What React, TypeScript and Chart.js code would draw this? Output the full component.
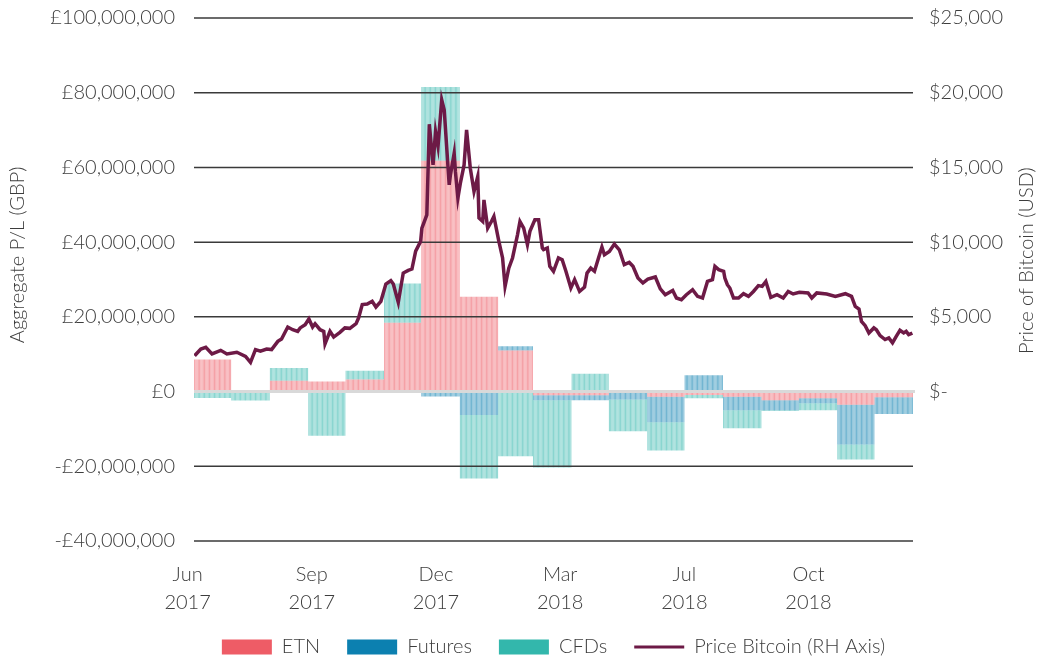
import React, { useEffect, useRef } from 'react';
import { Chart, registerables } from 'chart.js';

Chart.register(...registerables);

// Daily axis: day 0 = 1 Jun 2017, last day = 31 Dec 2018
const START_UTC = Date.UTC(2017, 5, 1);
const DAY_COUNT = 579;
const MONTH_NAMES = ['Jan', 'Feb', 'Mar', 'Apr', 'May', 'Jun', 'Jul', 'Aug', 'Sep', 'Oct', 'Nov', 'Dec'];

// Monthly categories (Jun 2017 .. Dec 2018)
const months = [
  'Jun 2017', 'Jul 2017', 'Aug 2017', 'Sep 2017', 'Oct 2017', 'Nov 2017', 'Dec 2017',
  'Jan 2018', 'Feb 2018', 'Mar 2018', 'Apr 2018', 'May 2018', 'Jun 2018', 'Jul 2018',
  'Aug 2018', 'Sep 2018', 'Oct 2018', 'Nov 2018', 'Dec 2018',
];

// Aggregate P/L per month, GBP millions
const etnMillions = [8.6, 0, 2.9, 2.7, 3.2, 18.4, 61.8, 25.4, 11.0, -1.0, -1.0, 0, -1.4, -0.9, -1.4, -2.3, -1.8, -3.5, -1.5];
const futuresMillions = [0, 0, 0, 0, 0, 0, -1.3, -6.3, 1.1, -1.3, -1.3, -2.1, -6.8, 4.4, -3.6, -2.7, -1.3, -10.7, -4.5];
const cfdsMillions = [-1.7, -2.4, 3.4, -11.8, 2.4, 10.5, 19.7, -17.0, -17.3, -18.0, 4.8, -8.5, -7.6, -0.9, -4.8, -0.2, -1.9, -4.0, 0];

// Bitcoin price (USD), day index from 1 Jun 2017
const priceDays = [
  0, 5, 9, 14, 21, 26, 34, 41, 45, 49, 53, 58, 62, 67, 70, 75, 79, 83, 85, 89,
  92, 95, 97, 101, 104, 105, 109, 112, 117, 121, 125, 130, 132, 135, 139, 143, 146, 150, 154, 158,
  160, 164, 168, 172, 175, 178, 182, 183, 187, 189, 192, 194, 196, 199, 201, 205, 206, 209, 210, 212,
  214, 217, 219, 222, 225, 228, 229, 232, 233, 236, 239, 241, 245, 248, 250, 253, 256, 260, 262, 265,
  268, 270, 274, 277, 280, 281, 284, 286, 289, 293, 296, 299, 303, 306, 310, 314, 316, 319, 322, 325,
  328, 330, 334, 338, 342, 346, 350, 353, 357, 361, 365, 371, 375, 379, 385, 388, 392, 396, 401, 405,
  409, 413, 417, 419, 422, 426, 427, 429, 431, 434, 438, 442, 446, 450, 454, 457, 460, 464, 469, 474,
  478, 482, 487, 494, 497, 501, 509, 516, 524, 529, 532, 535, 537, 540, 543, 547, 549, 552, 556, 559,
  562, 565, 568, 571, 573, 575, 578,
];
const priceUsd = [
  2400, 2850, 2960, 2520, 2760, 2520, 2630, 2360, 1960, 2810, 2700, 2850, 2810, 3360, 3520, 4320, 4140, 4030, 4260, 4480,
  4860, 4320, 4540, 4140, 4030, 3190, 4030, 3650, 3960, 4260, 4230, 4540, 4920, 5820, 5860, 6040, 5660, 6040, 7200, 7420,
  7200, 5970, 7930, 8110, 8200, 9400, 10050, 10940, 11830, 17890, 15170, 17400, 16400, 19520, 18850, 13840, 14500, 15950, 14730, 12950,
  13950, 15170, 17510, 14950, 13390, 14390, 11610, 11380, 12830, 10940, 11380, 11720, 10050, 8940, 7040, 8260, 8940, 10490, 11380, 10940,
  9830, 10720, 11500, 11500, 9610, 9500, 9610, 8380, 8050, 8940, 8820, 8050, 6930, 7490, 6700, 6990, 7930, 8260, 8050, 8870,
  9670, 9160, 9380, 9870, 9490, 8490, 8640, 8380, 7600, 7270, 7530, 7670, 6870, 6480, 6770, 6260, 6150, 6480, 6820, 6370,
  6260, 7370, 7490, 8380, 8160, 8050, 7600, 7150, 6930, 6260, 6260, 6550, 6370, 6700, 7090, 7040, 7370, 6300, 6480, 6260,
  6700, 6530, 6640, 6600, 6260, 6600, 6530, 6370, 6550, 6370, 5700, 5530, 4700, 4410, 3920, 4260, 4140, 3740, 3480, 3590,
  3260, 3700, 4100, 3920, 4030, 3810, 3920,
];

const xTickDays = [0, 100, 200, 300, 400, 500];
const gbpTicks = [-40e6, -20e6, 0, 20e6, 40e6, 60e6, 80e6, 100e6];
const usdTicks = [0, 5000, 10000, 15000, 20000, 25000];
const leftTitle = 'Aggregate P/L (GBP)';
const rightTitle = 'Price of Bitcoin (USD)';

const COLORS = {
  etn: '#EE5C66',
  etnBar: 'rgba(238,92,102,0.62)',
  futures: '#0C80B0',
  futuresBar: 'rgba(12,128,176,0.62)',
  cfds: '#33B7AC',
  cfdsBar: 'rgba(51,183,172,0.62)',
  price: '#6D1A46',
  text: '#3d3d3d',
  grid: '#3a3a3a',
  zero: '#d9d9d9',
};

const FONT = 'Lato, "Open Sans", sans-serif';
const FONT_SIZE = 20;
const FONT_WEIGHT = 300;

function withCommas(n: number): string {
  const s = String(Math.round(Math.abs(n)));
  return s.replace(/\B(?=(\d{3})+(?!\d))/g, ',');
}

function dayDate(d: number): Date {
  return new Date(START_UTC + d * 86400000);
}

function monthIndexOfDay(d: number): number {
  const dt = dayDate(d);
  return (dt.getUTCFullYear() - 2017) * 12 + dt.getUTCMonth() - 5;
}

function dailySeries(monthly: number[]) {
  const out: { x: number; y: number }[] = [];
  for (let d = 0; d < DAY_COUNT; d++) {
    const mi = monthIndexOfDay(d);
    out.push({ x: d, y: monthly[mi] * 1e6 });
  }
  return out;
}

const gridOverBars = {
  id: 'gridOverBars',
  beforeDatasetDraw(chart: any, args: any) {
    if (args.index !== 0) return;
    const { ctx, chartArea, scales } = chart;
    const y = scales.y;
    ctx.save();
    y.ticks.forEach((t: any) => {
      const py = y.getPixelForValue(t.value);
      ctx.beginPath();
      ctx.lineWidth = t.value === 0 ? 3 : 1.5;
      ctx.strokeStyle = t.value === 0 ? COLORS.zero : COLORS.grid;
      ctx.moveTo(chartArea.left, py);
      ctx.lineTo(chartArea.right + (t.value === 0 ? 2 : 0), py);
      ctx.stroke();
    });
    ctx.restore();
  },
};

const axisTitles = {
  id: 'axisTitles',
  afterDraw(chart: any) {
    const { ctx, chartArea, width } = chart;
    const h = chartArea.bottom - chartArea.top;
    ctx.save();
    ctx.fillStyle = COLORS.text;
    ctx.font = `${FONT_WEIGHT} ${FONT_SIZE}px ${FONT}`;
    ctx.textAlign = 'center';
    ctx.textBaseline = 'middle';
    ctx.translate(18, chartArea.top + h * 0.453);
    ctx.rotate(-Math.PI / 2);
    ctx.fillText(leftTitle, 0, 0);
    ctx.restore();
    ctx.save();
    ctx.fillStyle = COLORS.text;
    ctx.font = `${FONT_WEIGHT} ${FONT_SIZE}px ${FONT}`;
    ctx.textAlign = 'center';
    ctx.textBaseline = 'middle';
    ctx.translate(width - 12, chartArea.top + h * 0.464);
    ctx.rotate(-Math.PI / 2);
    ctx.fillText(rightTitle, 0, 0);
    ctx.restore();
  },
};

function noVerticalPadding(scale: any) {
  scale.paddingTop = 0;
  scale.paddingBottom = 0;
}

export default function App() {
  const canvasRef = useRef<HTMLCanvasElement | null>(null);

  useEffect(() => {
    document.body.style.margin = '0';
    const canvas = canvasRef.current;
    if (!canvas) return;

    const tickFont = { family: FONT, size: FONT_SIZE, weight: FONT_WEIGHT as any };
    const barCommon = {
      type: 'bar' as const,
      yAxisID: 'y',
      xAxisID: 'x',
      barPercentage: 0.75,
      categoryPercentage: 1,
      inflateAmount: 0,
      borderWidth: 0,
      order: 1,
    };

    const chart = new Chart(canvas, {
      type: 'bar',
      data: {
        datasets: [
          {
            type: 'line',
            label: 'Price Bitcoin (RH Axis)',
            data: priceDays.map((d, i) => ({ x: d, y: priceUsd[i] })),
            yAxisID: 'y2',
            xAxisID: 'x',
            borderColor: COLORS.price,
            backgroundColor: COLORS.price,
            borderWidth: 3.5,
            pointRadius: 0,
            tension: 0,
            fill: false,
            order: 0,
          } as any,
          { ...barCommon, label: 'ETN', data: dailySeries(etnMillions), backgroundColor: COLORS.etnBar } as any,
          { ...barCommon, label: 'Futures', data: dailySeries(futuresMillions), backgroundColor: COLORS.futuresBar } as any,
          { ...barCommon, label: 'CFDs', data: dailySeries(cfdsMillions), backgroundColor: COLORS.cfdsBar } as any,
        ],
      },
      options: {
        animation: false,
        responsive: false,
        maintainAspectRatio: false,
        layout: { padding: { top: 18, right: 0, bottom: 0, left: 0 } },
        plugins: {
          tooltip: { enabled: false },
          legend: {
            position: 'bottom',
            fullSize: false,
            maxHeight: 48,
            labels: {
              usePointStyle: true,
              pointStyleWidth: 50,
              boxHeight: 15,
              padding: 27,
              color: COLORS.text,
              font: tickFont,
              generateLabels: () => [
                { text: 'ETN', fillStyle: COLORS.etn, strokeStyle: COLORS.etn, lineWidth: 0, pointStyle: 'rect', hidden: false, datasetIndex: 1, fontColor: COLORS.text },
                { text: 'Futures', fillStyle: COLORS.futures, strokeStyle: COLORS.futures, lineWidth: 0, pointStyle: 'rect', hidden: false, datasetIndex: 2, fontColor: COLORS.text },
                { text: 'CFDs', fillStyle: COLORS.cfds, strokeStyle: COLORS.cfds, lineWidth: 0, pointStyle: 'rect', hidden: false, datasetIndex: 3, fontColor: COLORS.text },
                { text: 'Price Bitcoin (RH Axis)', fillStyle: COLORS.price, strokeStyle: COLORS.price, lineWidth: 3, pointStyle: 'line', hidden: false, datasetIndex: 0, fontColor: COLORS.text },
              ] as any,
            },
          },
        },
        scales: {
          x: {
            type: 'linear',
            min: -0.5,
            max: DAY_COUNT - 0.5,
            offset: false,
            stacked: true,
            grid: { display: false, drawTicks: false },
            border: { display: false },
            afterBuildTicks: (scale: any) => {
              scale.ticks = xTickDays.map((v) => ({ value: v }));
            },
            afterFit: (scale: any) => {
              scale.height = 69;
            },
            ticks: {
              autoSkip: false,
              maxRotation: 0,
              padding: 20,
              labelOffset: -7,
              color: COLORS.text,
              font: { ...tickFont, lineHeight: 1.4 },
              callback: (v: any) => {
                const dt = dayDate(Number(v));
                return [MONTH_NAMES[dt.getUTCMonth()], String(dt.getUTCFullYear())];
              },
            },
          },
          y: {
            type: 'linear',
            position: 'left',
            stacked: true,
            min: -40e6,
            max: 100e6,
            grid: { display: false, drawTicks: false },
            border: { display: false },
            afterBuildTicks: (scale: any) => {
              scale.ticks = gbpTicks.map((v) => ({ value: v }));
            },
            afterFit: (scale: any) => {
              scale.width = 194;
              noVerticalPadding(scale);
            },
            ticks: {
              padding: 19,
              color: COLORS.text,
              font: tickFont,
              callback: (v: any) => {
                const n = Number(v);
                if (n === 0) return '£0';
                return (n < 0 ? '-' : '') + '£' + withCommas(n);
              },
            },
          },
          y2: {
            type: 'linear',
            position: 'right',
            min: -10000,
            max: 25000,
            grid: { display: false, drawTicks: false },
            border: { display: false },
            afterBuildTicks: (scale: any) => {
              scale.ticks = usdTicks.map((v) => ({ value: v }));
            },
            afterFit: (scale: any) => {
              scale.width = 126;
              noVerticalPadding(scale);
            },
            ticks: {
              padding: 16,
              color: COLORS.text,
              font: tickFont,
              callback: (v: any) => {
                const n = Number(v);
                if (n === 0) return '$-';
                return '$' + withCommas(n);
              },
            },
          },
        },
      } as any,
      plugins: [gridOverBars, axisTitles],
    });

    return () => {
      chart.destroy();
    };
  }, []);

  return (
    <div style={{ width: 1039, height: 658, position: 'relative' }}>
      <canvas ref={canvasRef} width={1039} height={658} style={{ display: 'block' }} />
    </div>
  );
}
